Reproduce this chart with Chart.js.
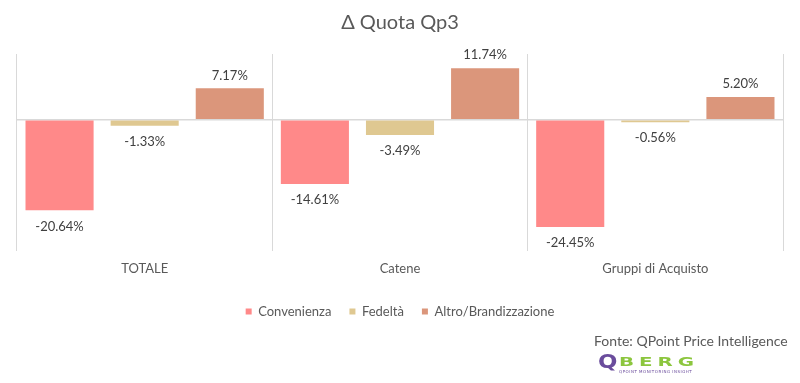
<!DOCTYPE html>
<html>
<head>
<meta charset="utf-8">
<script src="https://cdn.jsdelivr.net/npm/chart.js@4.4.1/dist/chart.umd.min.js"></script>
<style>
  html, body { margin: 0; padding: 0; background: #fff; }
  #wrap { position: relative; width: 800px; height: 383px; }
  #source {
    position: absolute; left: 594px; top: 332px;
    font: 14px Lato, sans-serif; color: #595959; white-space: nowrap;
  }
  #logo { position: absolute; left: 598px; top: 355px; width: 110px; height: 22px; }
  #logo .q { position: absolute; left: 0; top: -3px; font: 900 19px "DejaVu Sans", sans-serif; color: #6a4c9c; line-height: 19px; transform: scaleX(1.2); transform-origin: left top; }
  #logo .berg { position: absolute; left: 21px; top: 1px; font: 900 12px "DejaVu Sans", sans-serif; color: #8cc63e; letter-spacing: 3px; line-height: 12px; transform: scaleX(1.65); transform-origin: left top; }
  #logo .tag { position: absolute; left: 21px; top: 14px; font: 4px "DejaVu Sans", sans-serif; color: #6a4c9c; letter-spacing: 0.5px; white-space: nowrap; }
</style>
</head>
<body>
<div id="wrap">
  <canvas id="chart" width="800" height="383"></canvas>
  <div id="source">Fonte: QPoint Price Intelligence</div>
  <div id="logo"><span class="q">Q</span><span class="berg">BERG</span><span class="tag">QPOINT MONITORING INSIGHT</span></div>
</div>
<script>
// values
const categories = ['TOTALE', 'Catene', 'Gruppi di Acquisto'];
const convenienza = [-20.64, -14.61, -24.45];
const fedelta = [-1.33, -3.49, -0.56];
const altro = [7.17, 11.74, 5.20];

const textGray = '#595959';

// value labels above / below each bar
const barLabels = {
  id: 'barLabels',
  afterDatasetsDraw(chart) {
    const ctx = chart.ctx;
    ctx.save();
    ctx.font = '13px Lato, sans-serif';
    ctx.fillStyle = '#404040';
    ctx.textAlign = 'center';
    ctx.textBaseline = 'middle';
    chart.data.datasets.forEach((ds, i) => {
      chart.getDatasetMeta(i).data.forEach((bar, j) => {
        const v = ds.data[j];
        const y = v >= 0 ? bar.y - 13 : bar.y + 16;
        ctx.fillText(v.toFixed(2) + '%', bar.x, y);
      });
    });
    ctx.restore();
  }
};

new Chart(document.getElementById('chart'), {
  type: 'bar',
  data: {
    labels: categories,
    datasets: [
      { label: 'Convenienza', data: convenienza, backgroundColor: '#ff8989' },
      { label: 'Fedeltà', data: fedelta, backgroundColor: '#dfc891' },
      { label: 'Altro/Brandizzazione', data: altro, backgroundColor: '#db967b' }
    ]
  },
  options: {
    responsive: false,
    animation: false,
    categoryPercentage: 1,
    barPercentage: 0.8,
    layout: { padding: { left: 17, right: 17, top: 0, bottom: 55 } },
    plugins: {
      title: {
        display: true,
        text: 'Δ Quota Qp3',
        color: textGray,
        font: { family: 'Lato', size: 20, weight: 'normal' },
        padding: { top: 11, bottom: 19 }
      },
      legend: {
        position: 'bottom',
        labels: {
          color: textGray,
          font: { family: 'Lato', size: 13 },
          boxWidth: 6,
          boxHeight: 6,
          padding: 18
        }
      },
      tooltip: { enabled: false }
    },
    scales: {
      x: {
        grid: { offset: true, color: '#d9d9d9', drawTicks: false },
        border: { display: false },
        ticks: { color: textGray, font: { family: 'Lato', size: 13 }, padding: 10 }
      },
      y: {
        min: -30,
        max: 15,
        ticks: { display: false, stepSize: 5 },
        border: { display: false },
        grid: {
          drawTicks: false,
          lineWidth: 1.5,
          color: (c) => (c.tick && c.tick.value === 0 ? '#d9d9d9' : 'transparent')
        },
        afterFit: (axis) => { axis.width = 0; }
      }
    }
  },
  plugins: [barLabels]
});
</script>
</body>
</html>
